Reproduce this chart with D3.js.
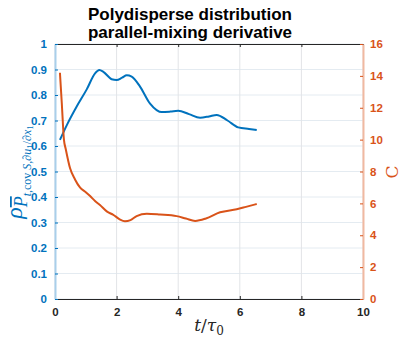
<!DOCTYPE html>
<html>
<head>
<meta charset="utf-8">
<script src="https://cdn.jsdelivr.net/npm/d3@7"></script>
<style>
  body { margin: 0; background: #fff; }
  svg { display: block; font-family: "Liberation Sans", Arial, sans-serif; }
</style>
</head>
<body>
<svg id="chart" width="407" height="339"></svg>
<script>
// Blue series: correlation rho vs t/tau0
const tRho = [0.16, 0.4, 0.7, 1.03, 1.3, 1.44, 1.57, 1.84, 2.0, 2.18, 2.33, 2.49, 2.76, 3.08, 3.3, 3.46, 3.75, 4.0, 4.35, 4.71, 5.0, 5.25, 5.6, 5.95, 6.3, 6.55];
const rhoVals = [0.624, 0.686, 0.754, 0.822, 0.885, 0.898, 0.891, 0.862, 0.859, 0.868, 0.877, 0.872, 0.833, 0.767, 0.741, 0.733, 0.735, 0.738, 0.725, 0.711, 0.716, 0.722, 0.7, 0.673, 0.667, 0.663];

// Orange series: C vs t/tau0
const tC = [0.16, 0.22, 0.29, 0.35, 0.49, 0.65, 0.81, 1.0, 1.14, 1.3, 1.46, 1.68, 1.9, 2.1, 2.27, 2.45, 2.65, 2.98, 3.41, 3.95, 4.25, 4.55, 4.9, 5.36, 5.9, 6.2, 6.55];
const cVals = [14.2, 12.3, 10.0, 9.4, 8.2, 7.5, 7.0, 6.7, 6.46, 6.15, 5.9, 5.5, 5.27, 5.0, 4.88, 4.95, 5.2, 5.35, 5.3, 5.2, 5.05, 4.9, 5.05, 5.44, 5.63, 5.78, 5.96];

const xTicks = [0, 2, 4, 6, 8, 10];
const leftTicks = [0, 0.1, 0.2, 0.3, 0.4, 0.5, 0.6, 0.7, 0.8, 0.9, 1];
const rightTicks = [0, 2, 4, 6, 8, 10, 12, 14, 16];
const titleLines = ["Polydisperse distribution", "parallel-mixing derivative"];

const blue = "#0072BD", orange = "#D95319";
const margin = { top: 44, right: 44, bottom: 40, left: 55 };
const W = 407, H = 339;
const iw = W - margin.left - margin.right;
const ih = H - margin.top - margin.bottom;

const svg = d3.select("#chart");
const g = svg.append("g").attr("transform", `translate(${margin.left},${margin.top})`);

const x = d3.scaleLinear().domain([0, 10]).range([0, iw]);
const yL = d3.scaleLinear().domain([0, 1]).range([ih, 0]);
const yR = d3.scaleLinear().domain([0, 16]).range([ih, 0]);

// grid
g.append("g").selectAll("line").data(leftTicks).enter().append("line")
  .attr("x1", 0).attr("x2", iw)
  .attr("y1", d => yL(d)).attr("y2", d => yL(d))
  .attr("stroke", "#e4ebf1").attr("stroke-width", 1);
g.append("g").selectAll("line").data(xTicks).enter().append("line")
  .attr("y1", 0).attr("y2", ih)
  .attr("x1", d => x(d)).attr("x2", d => x(d))
  .attr("stroke", "#e2e4e7").attr("stroke-width", 1);

// axes
const fmt = d => String(d);
const axB = g.append("g").attr("transform", `translate(0,${ih})`)
  .call(d3.axisBottom(x).tickValues(xTicks).tickFormat(fmt).tickSizeInner(-3).tickSizeOuter(0).tickPadding(9));
const axT = g.append("g")
  .call(d3.axisTop(x).tickValues(xTicks).tickFormat("").tickSizeInner(-3).tickSizeOuter(0));
const axL = g.append("g")
  .call(d3.axisLeft(yL).tickValues(leftTicks).tickFormat(fmt).tickSizeInner(-3).tickSizeOuter(0).tickPadding(8));
const axR = g.append("g").attr("transform", `translate(${iw},0)`)
  .call(d3.axisRight(yR).tickValues(rightTicks).tickFormat(fmt).tickSizeInner(-3).tickSizeOuter(0).tickPadding(7));

[axB, axT].forEach(a => {
  a.select(".domain").attr("stroke", "#262626");
  a.selectAll(".tick line").attr("stroke", "#262626");
});
axB.selectAll("text").attr("fill", "#262626");
axL.select(".domain").attr("stroke", "#a9cfea").attr("stroke-width", 2);
axL.selectAll(".tick line").attr("stroke", blue);
axL.selectAll("text").attr("fill", blue);
axR.select(".domain").attr("stroke", "#f0b9a1").attr("stroke-width", 2);
axR.selectAll(".tick line").attr("stroke", orange);
axR.selectAll("text").attr("fill", orange);
svg.selectAll(".tick text").attr("font-size", 11.5).attr("font-weight", "bold")
  .attr("font-family", "Liberation Sans, Arial, sans-serif");

// lines
const lineR = d3.line().x(d => x(d[0])).y(d => yL(d[1])).curve(d3.curveMonotoneX);
const lineC = d3.line().x(d => x(d[0])).y(d => yR(d[1])).curve(d3.curveMonotoneX);
g.append("path").datum(d3.zip(tRho, rhoVals)).attr("d", lineR)
  .attr("fill", "none").attr("stroke", blue).attr("stroke-width", 2);
g.append("path").datum(d3.zip(tC, cVals)).attr("d", lineC)
  .attr("fill", "none").attr("stroke", orange).attr("stroke-width", 2);

// title (sits a bit left of the axes centre, as in the original)
svg.append("g").selectAll("text").data(titleLines).enter().append("text")
  .attr("x", 190).attr("y", (d, i) => 20 + i * 18)
  .attr("text-anchor", "middle").attr("font-size", 17).attr("font-weight", "bold")
  .attr("fill", "#000").text(d => d);

// x label
const xl = svg.append("text").attr("x", margin.left + iw / 2).attr("y", 331)
  .attr("text-anchor", "middle").attr("font-family", "DejaVu Serif, Liberation Serif, serif")
  .attr("font-size", 17).attr("fill", "#262626");
xl.append("tspan").attr("font-style", "italic").text("t");
xl.append("tspan").text("/");
xl.append("tspan").attr("font-style", "italic").text("τ");
xl.append("tspan").attr("font-size", 12).attr("dy", 4).text("0");

// left label (rho with subscripts)
const yl = svg.append("text").attr("transform", "translate(22,172) rotate(-90)")
  .attr("text-anchor", "middle").attr("font-family", "Liberation Serif, DejaVu Serif, serif")
  .attr("fill", blue);
yl.append("tspan").attr("font-style", "italic").attr("font-size", 24).text("ρ");
yl.append("tspan").attr("font-style", "italic").attr("font-size", 18).attr("dy", 5)
  .attr("text-decoration", "overline").text("P");
yl.append("tspan").attr("font-style", "italic").attr("font-size", 12).attr("dy", 4).text("t");
yl.append("tspan").attr("font-size", 12).text(",cov");
yl.append("tspan").attr("font-size", 12).attr("font-style", "italic").text(" S");
yl.append("tspan").attr("font-size", 12).text(",∂");
yl.append("tspan").attr("font-size", 12).attr("font-style", "italic").text("u");
yl.append("tspan").attr("font-size", 9).attr("dy", 2).text("1");
yl.append("tspan").attr("font-size", 12).attr("dy", -2).text("/∂");
yl.append("tspan").attr("font-size", 12).attr("font-style", "italic").text("x");
yl.append("tspan").attr("font-size", 9).attr("dy", 2).text("1");

// right label
svg.append("text").attr("transform", "translate(398,172) rotate(-90)")
  .attr("text-anchor", "middle").attr("font-family", "DejaVu Serif, Liberation Serif, serif")
  .attr("font-size", 17).attr("fill", orange).text("C");
</script>
</body>
</html>
